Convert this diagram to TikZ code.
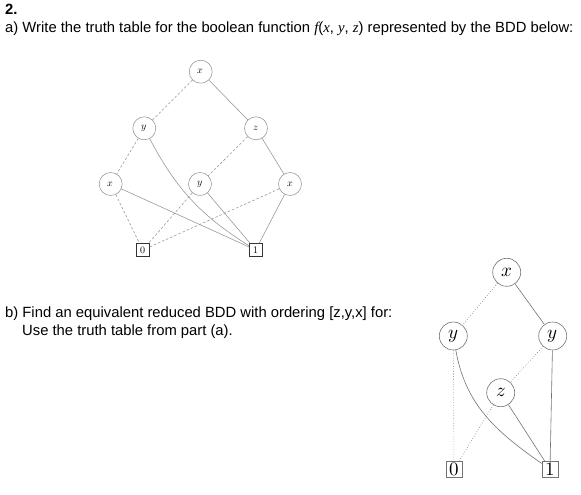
\documentclass[tikz,border=0pt]{standalone}
\usepackage{fontspec}
\setmainfont{Liberation Sans}
\newfontfamily\timesf{Liberation Serif}
\usepackage{unicode-math}
\begin{document}
\begin{tikzpicture}[x=1pt,y=-1pt,
  tline/.style={draw=gray!85,line width=0.55pt},
  tdash/.style={tline,dashed,dash pattern=on 2.5pt off 2pt},
  tnode/.style={circle,draw=gray!85,line width=0.55pt,minimum size=23pt,inner sep=0pt,font=\fontsize{10}{11}\selectfont},
  tbox/.style={rectangle,draw=black!80,line width=0.55pt,minimum size=13pt,inner sep=0pt,font=\fontsize{10}{11}\selectfont},
  bline/.style={draw=gray!90!black,line width=0.6pt},
  bdot/.style={bline,dotted},
  bnode/.style={circle,draw=gray!90!black,line width=0.6pt,minimum size=28pt,inner sep=0pt,font=\fontsize{19}{20}\selectfont},
  bbox/.style={rectangle,draw=gray!90!black,line width=0.6pt,minimum size=16pt,inner sep=0pt,font=\fontsize{19}{20}\selectfont},
  txt/.style={anchor=base west,inner sep=0pt,font=\fontsize{14.8}{17}\selectfont}
]
\useasboundingbox (0,0) rectangle (581,495);
% texts
\node[txt,font=\fontsize{14.8}{17}\selectfont\bfseries] (t2) at (5,15) {2.};
\node[txt] (ta) at (5,33) {a) Write the truth table for the boolean function {\timesf\itshape f}({\timesf\itshape x}, {\timesf\itshape y}, {\timesf\itshape z}) represented by the BDD below:};
\node[txt] (tb) at (5,317) {b) Find an equivalent reduced BDD with ordering [z,y,x] for:};
\node[txt] (tc) at (22,335) {Use the truth table from part (a).};
% top BDD
\node[tnode] (x1) at (200.7,71.7) {$x$};
\node[tnode] (y1) at (144.3,128.3) {$y$};
\node[tnode] (z1) at (256,128.3) {$z$};
\node[tnode] (x2) at (110.7,184) {$x$};
\node[tnode] (y2) at (200,184) {$y$};
\node[tnode] (x3) at (290,184) {$x$};
\node[tbox] (o0) at (142.7,250) {$0$};
\node[tbox] (o1) at (255.7,250) {$1$};
\draw[tdash] (x1) -- (y1);
\draw[tline] (x1) -- (z1);
\draw[tdash] (y1) -- (x2);
\draw[tline] (y1) to[bend right=15] (o1);
\draw[tdash] (z1) -- (y2);
\draw[tline] (z1) -- (x3);
\draw[tdash] (x2) -- (o0);
\draw[tline] (x2) -- (o1);
\draw[tdash] (y2) -- (o0);
\draw[tline] (y2) -- (o1);
\draw[tdash] (x3) -- (o0);
\draw[tline] (x3) -- (o1);
% bottom BDD
\node[bnode] (bx) at (506.7,272.3) {$x$};
\node[bnode] (by1) at (453.3,336) {$y$};
\node[bnode] (by2) at (552.7,336) {$y$};
\node[bnode] (bz) at (500.7,392.7) {$z$};
\node[bbox] (b0) at (454,469.3) {$0$};
\node[bbox] (b1) at (550,469.3) {$1$};
\draw[bdot] (bx) -- (by1);
\draw[bline] (bx) -- (by2);
\draw[bdot] (by1) -- (b0);
\draw[bline] (by1) to[out=-80,in=145] (b1);
\draw[bdot] (by2) -- (bz);
\draw[bline] (by2) -- (b1);
\draw[bdot] (bz) -- (b0);
\draw[bline] (bz) -- (b1);
\end{tikzpicture}
\end{document}
